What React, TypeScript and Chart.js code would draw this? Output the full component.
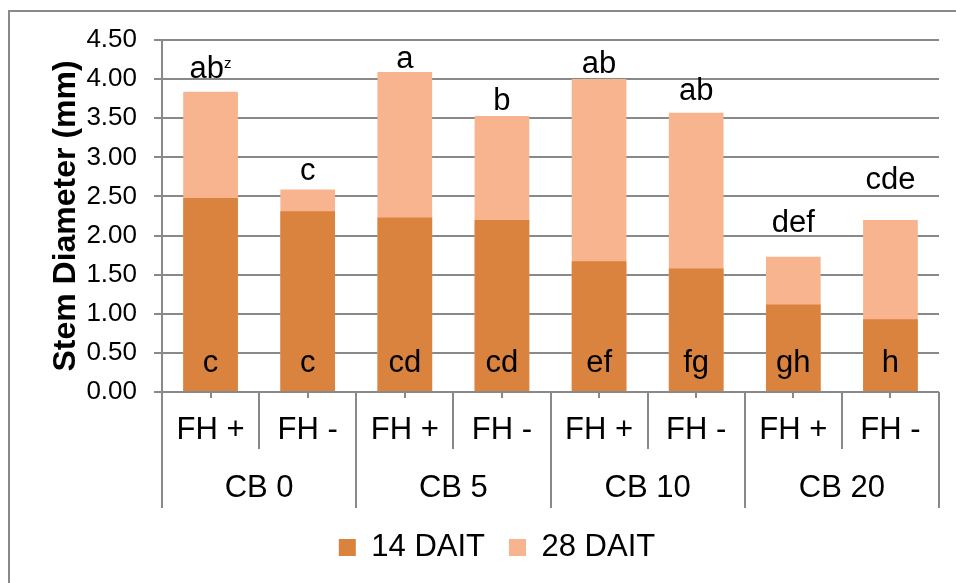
import React, { useEffect, useRef } from 'react';
import { Chart, registerables } from 'chart.js';

Chart.register(...registerables);

// ---- data ----
const treatments = ['FH +', 'FH -', 'FH +', 'FH -', 'FH +', 'FH -', 'FH +', 'FH -'];
const groups = ['CB 0', 'CB 5', 'CB 10', 'CB 20'];
const dait14 = [2.48, 2.31, 2.23, 2.2, 1.67, 1.58, 1.12, 0.93];
const dait28 = [3.84, 2.59, 4.09, 3.53, 4.0, 3.57, 1.73, 2.2];
const letters14 = ['c', 'c', 'cd', 'cd', 'ef', 'fg', 'gh', 'h'];
const letters28 = ['ab', 'c', 'a', 'b', 'ab', 'ab', 'def', 'cde'];
const superscripts28 = ['z', '', '', '', '', '', '', ''];
const seriesNames = ['14 DAIT', '28 DAIT'];

// ---- styles ----
const FONT = '"Liberation Sans", Arial, Helvetica, sans-serif';
const GRID = '#898989';
const DARK = '#DA833F';
const LIGHT = '#F8B48E';
// distance (px) between each top letter's baseline and its bar top
const labelLift = [14, 9, 4, 6, 6, 13, 25, 31];

const framePlugin = {
  id: 'frame',
  beforeDraw(chart: any) {
    const ctx = chart.ctx;
    ctx.save();
    ctx.strokeStyle = GRID;
    ctx.lineWidth = 2;
    ctx.beginPath();
    ctx.moveTo(9, chart.height + 5);
    ctx.lineTo(9, 11);
    ctx.lineTo(chart.width + 5, 11);
    ctx.stroke();
    ctx.restore();
  },
};

const categoryLinesPlugin = {
  id: 'categoryLines',
  afterDraw(chart: any) {
    const ctx = chart.ctx;
    const x = chart.scales.x;
    const x2 = chart.scales.x2;
    const n = treatments.length;
    const per = n / groups.length;
    const step = (x.right - x.left) / n;
    ctx.save();
    ctx.strokeStyle = GRID;
    ctx.lineWidth = 2;
    ctx.beginPath();
    for (let i = 0; i < n; i++) {
      const cx = Math.round(x.getPixelForValue(i));
      ctx.moveTo(cx, x.top);
      ctx.lineTo(cx, x.top + 6);
    }
    for (let j = 0; j <= n; j++) {
      const bx = Math.round(x.left + j * step);
      const bottom = j % per === 0 ? x2.bottom : x.bottom;
      ctx.moveTo(bx, x.top);
      ctx.lineTo(bx, bottom);
    }
    ctx.stroke();
    ctx.restore();
  },
};

const lettersPlugin = {
  id: 'letters',
  afterDatasetsDraw(chart: any) {
    const ctx = chart.ctx;
    const meta28 = chart.getDatasetMeta(1);
    const y = chart.scales.y;
    const base = y.getPixelForValue(0);
    ctx.save();
    ctx.fillStyle = '#000';
    ctx.textBaseline = 'alphabetic';
    for (let i = 0; i < treatments.length; i++) {
      const bar = meta28.data[i];
      const cx = bar.x;
      const topY = bar.y - labelLift[i];
      const main = letters28[i];
      const sup = superscripts28[i];
      ctx.font = `31px ${FONT}`;
      const wMain = ctx.measureText(main).width;
      ctx.font = `15px ${FONT}`;
      const wSup = sup ? ctx.measureText(sup).width : 0;
      const start = cx - (wMain + wSup) / 2;
      ctx.textAlign = 'left';
      ctx.font = `31px ${FONT}`;
      ctx.fillText(main, start, topY);
      if (sup) {
        ctx.font = `15px ${FONT}`;
        ctx.fillText(sup, start + wMain, topY - 9.5);
      }
      ctx.font = `31px ${FONT}`;
      ctx.textAlign = 'center';
      ctx.fillText(letters14[i], cx, base - 20.3);
    }
    ctx.restore();
  },
};

export default function App() {
  const ref = useRef<HTMLCanvasElement | null>(null);

  useEffect(() => {
    if (!ref.current) return;
    const chart = new Chart(ref.current, {
      type: 'bar',
      data: {
        labels: treatments,
        datasets: [
          {
            label: seriesNames[0],
            data: dait14,
            backgroundColor: DARK,
            borderWidth: 0,
            order: 0,
            grouped: false,
            barPercentage: 0.563,
            categoryPercentage: 1,
          },
          {
            label: seriesNames[1],
            data: dait28,
            backgroundColor: LIGHT,
            borderWidth: 0,
            order: 1,
            grouped: false,
            barPercentage: 0.563,
            categoryPercentage: 1,
          },
        ],
      },
      options: {
        animation: false,
        responsive: false,
        maintainAspectRatio: false,
        devicePixelRatio: 1,
        layout: { padding: { left: 55, right: 17, top: 40, bottom: 10 } },
        plugins: {
          legend: {
            position: 'bottom',
            labels: {
              boxWidth: 17,
              boxHeight: 17,
              padding: 24,
              color: '#000',
              font: { size: 31, family: FONT },
            },
          },
          tooltip: { enabled: false },
        },
        scales: {
          x: {
            type: 'category',
            offset: true,
            grid: { display: false, drawTicks: false },
            border: { display: false },
            ticks: {
              color: '#000',
              font: { size: 31, family: FONT },
              padding: 20,
              maxRotation: 0,
              autoSkip: false,
            },
            afterFit: (s: any) => {
              s.height = 57;
            },
          },
          x2: {
            type: 'category',
            labels: groups,
            position: 'bottom',
            offset: true,
            weight: 1,
            grid: { display: false, drawTicks: false },
            border: { display: false },
            ticks: {
              color: '#000',
              font: { size: 31, family: FONT },
              padding: 21,
              maxRotation: 0,
              autoSkip: false,
            },
            afterFit: (s: any) => {
              s.height = 59;
            },
          },
          y: {
            min: 0,
            max: 4.5,
            ticks: {
              stepSize: 0.5,
              callback: (v: any) => Number(v).toFixed(2),
              color: '#000',
              font: { size: 26, family: FONT },
              padding: 17,
            },
            grid: { color: GRID, lineWidth: 2, tickLength: 8, drawTicks: true },
            border: { color: GRID, width: 2 },
            title: {
              display: true,
              text: 'Stem Diameter (mm)',
              color: '#000',
              font: { size: 32, weight: 'bold', family: FONT },
              padding: { top: -8, bottom: 0 },
            },
            afterFit: (s: any) => {
              s.width = 107;
            },
          },
        },
      },
      plugins: [framePlugin, categoryLinesPlugin, lettersPlugin],
    } as any);
    return () => chart.destroy();
  }, []);

  return (
    <div
      style={{
        position: 'fixed',
        left: 0,
        top: 0,
        width: 956,
        height: 583,
        overflow: 'hidden',
        background: '#fff',
      }}
    >
      <canvas ref={ref} width={956} height={583} style={{ display: 'block', width: 956, height: 583 }} />
    </div>
  );
}
